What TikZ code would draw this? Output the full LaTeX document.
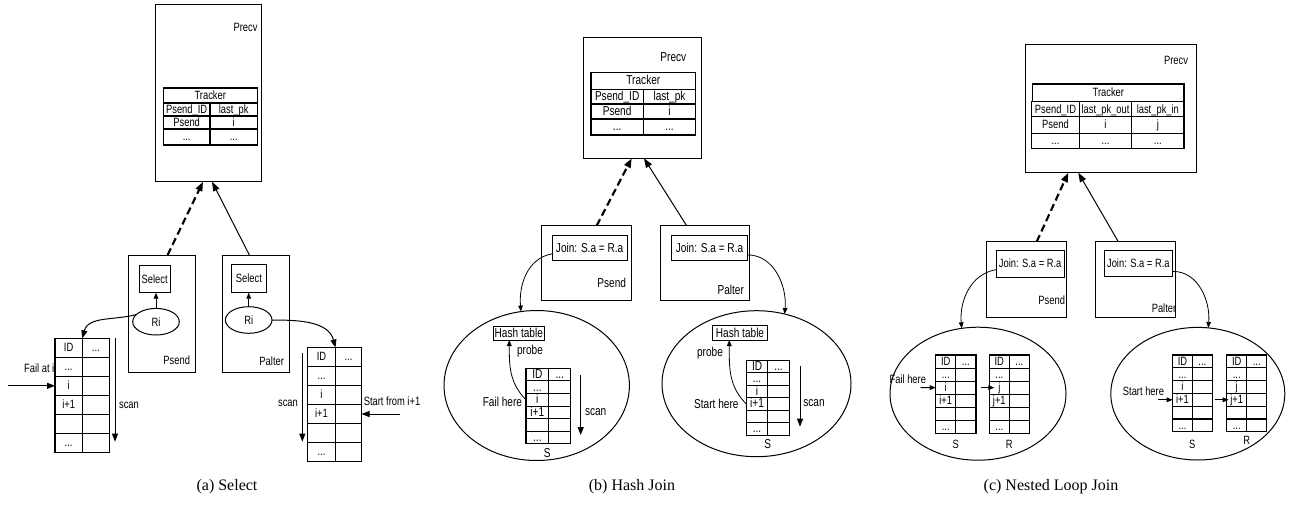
\documentclass[tikz,border=0pt]{standalone}
\usepackage{fontspec}
\setmainfont{Liberation Serif}
\newfontfamily\lab{Liberation Sans}[FakeStretch=0.78]
\usetikzlibrary{arrows.meta,shapes.geometric,calc}
\newcommand\threedots{...}

\tikzset{
  frame/.style={draw, line width=0.75pt, inner sep=0pt, outer sep=0pt},
  cell/.style={draw, line width=0.8pt, inner sep=0pt, outer sep=0pt, text height=1.45ex, text depth=0.2ex},
  cellbox/.style={inner sep=0pt, outer sep=0pt, text height=1.45ex, text depth=0.2ex},
  gridline/.style={line width=0.8pt},
  oval/.style={draw, ellipse, line width=0.75pt, inner sep=0pt, outer sep=0pt},
  lbl/.style={inner sep=0pt, outer sep=0pt},
  tip/.style={-{Triangle[length=6pt,width=4.5pt]}, line width=0.75pt},
  smalltip/.style={-{Triangle[length=4.5pt,width=3.5pt]}, line width=0.6pt},
  uparrow/.style={-{Triangle[length=7pt,width=5pt]}, line width=0.75pt},
  updashed/.style={uparrow, line width=1.6pt, dash pattern=on 5.5pt off 3pt},
  fa/.style={font=\lab\fontsize{9}{10}\selectfont},
  fb/.style={font=\lab\fontsize{9.7}{10.5}\selectfont},
  captext/.style={font=\fontsize{12}{14}\selectfont, inner sep=0pt}
}

% rectangle node from its corner coordinates (in px units)
\newcommand\rect[7]{\node[#1, minimum width={(#5-#3)*0.75pt}, minimum height={(#6-#4)*0.75pt}] (#2) at ({(#3+#5)/2},{(#4+#6)/2}) {#7};}

% two-column record table: name, left x, top y, col widths, row height, first-column entries
\newcommand\celltable[7]{%
  \foreach \txt [count=\rr] in {#7}{%
    \node[cellbox, minimum width={#4*0.75pt}, minimum height={#6*0.75pt}] (#1-\rr-1) at ({#2+#4/2},{#3+(\rr-0.5)*#6}) {\txt};
    \node[cellbox, minimum width={#5*0.75pt}, minimum height={#6*0.75pt}] (#1-\rr-2) at ({#2+#4+#5/2},{#3+(\rr-0.5)*#6}) {\ifnum\rr=1 \threedots\fi};
    \draw[gridline] (#1-\rr-1.north west) rectangle (#1-\rr-2.south east);
    \draw[gridline] (#1-\rr-1.north east) -- (#1-\rr-1.south east);
  }%
}

\begin{document}
\begin{tikzpicture}[x=0.75pt, y=-0.75pt]
\useasboundingbox (0,0) rectangle (1293,504);

%% ---------------- (a) Select ----------------
\begin{scope}[nodes={fa}]
\rect{frame}{PrecvA}{155}{4}{261.7}{181.7}{}
\node[lbl] at (245.5,27) {Precv};
\rect{cell}{TA0}{163.3}{88}{257.3}{103}{Tracker}
\rect{cell}{TA11}{163.3}{103}{210}{116}{Psend\_ID}
\rect{cell}{TA12}{210}{103}{257.3}{116}{last\_pk}
\rect{cell}{TA21}{163.3}{116}{210}{129}{Psend}
\rect{cell}{TA22}{210}{116}{257.3}{129}{i}
\rect{cell}{TA31}{163.3}{129}{210}{145}{\threedots}
\rect{cell}{TA32}{210}{129}{257.3}{145}{\threedots}

\rect{frame}{PsendA}{128.3}{255}{195.7}{372.7}{}
\rect{frame}{SelectA1}{139.3}{265}{170}{292.7}{Select}
\node[oval, minimum width={46.6*0.75pt}, minimum height={26.6*0.75pt}] (RiA1) at (156,321.7) {Ri};
\node[lbl] at (176.7,360) {Psend};

\rect{frame}{PalterA}{222.3}{255}{289}{372.7}{}
\rect{frame}{SelectA2}{231.7}{264.3}{266}{292.7}{Select}
\node[oval, minimum width={46.6*0.75pt}, minimum height={26.6*0.75pt}] (RiA2) at (248.7,320) {Ri};
\node[lbl] at (271.7,361.7) {Palter};

\celltable{A1}{55}{338.3}{27.3}{27}{19}{ID,\threedots,i,i+1,{},\threedots}
\celltable{A2}{307.5}{347.5}{28}{26}{19}{ID,\threedots,i,i+1,{},\threedots}

\draw[smalltip] (RiA1.north) -- (RiA1.north |- SelectA1.south);
\draw[smalltip] (RiA2.north) -- (RiA2.north |- SelectA2.south);
\draw[updashed] ($(PsendA.north)+(5.6,0)$) -- ($(PrecvA.south)+(-5.3,0)$);
\draw[uparrow] ($(PalterA.north)+(-6.3,0)$) -- ($(PrecvA.south)+(3.7,0)$);
\draw[tip] (RiA1.160) to[out=195,in=75] (A1-1-1.north east);
\draw[tip] (RiA2.east) to[out=0,in=105] (A2-1-1.north east);

\coordinate (failA) at (8,385.8);
\draw[tip] (failA) -- (A1-3-1.west);
\node[lbl, anchor=east] at (54.3,368) {Fail at i};
\coordinate (startA) at (400,414);
\draw[tip] (startA) -- (A2-4-2.east);
\node[lbl, anchor=west] at (363.8,401.7) {Start from i+1};

\coordinate (scanA1s) at (115,338);
\coordinate (scanA1e) at (115,441.7);
\draw[tip] (scanA1s) -- (scanA1e);
\node[lbl] at (129,405) {scan};
\coordinate (scanA2s) at (302.3,352.7);
\coordinate (scanA2e) at (302.3,441.7);
\draw[tip] (scanA2s) -- (scanA2e);
\node[lbl] at (288,403.3) {scan};
\end{scope}

%% ---------------- (b) Hash Join ----------------
\begin{scope}[nodes={fb}]
\rect{frame}{PrecvB}{583.3}{37}{701.7}{158.3}{}
\node[lbl] at (673.3,57.3) {Precv};
\rect{cell}{TB0}{591}{72.3}{695.7}{89.5}{Tracker}
\rect{cell}{TB11}{591}{89.5}{643.3}{104}{Psend\_ID}
\rect{cell}{TB12}{643.3}{89.5}{695.7}{104}{last\_pk}
\rect{cell}{TB21}{591}{104}{643.3}{119}{Psend}
\rect{cell}{TB22}{643.3}{104}{695.7}{119}{i}
\rect{cell}{TB31}{591}{119}{643.3}{135}{\threedots}
\rect{cell}{TB32}{643.3}{119}{695.7}{135}{\threedots}

\rect{frame}{PsendB}{541.7}{225.7}{631}{300}{}
\rect{frame}{JoinB1}{552}{235}{627.3}{260.7}{Join: S.a = R.a}
\node[lbl] at (611.7,282.7) {Psend};
\rect{frame}{PalterB}{660}{225.7}{749.3}{300}{}
\rect{frame}{JoinB2}{671.7}{235}{747.3}{260.7}{Join: S.a = R.a}
\node[lbl] at (730.7,290) {Palter};

\draw[updashed] ($(PsendB.north)+(10.3,0)$) -- ($(PrecvB.south)+(-10.8,0)$);
\draw[uparrow] ($(PalterB.north)+(-18,0)$) -- ($(PrecvB.south)+(1.5,0)$);

\node[oval, minimum width={185.4*0.75pt}, minimum height={150*0.75pt}] (EB1) at (536.7,385.5) {};
\node[oval, minimum width={189*0.75pt}, minimum height={146*0.75pt}] (EB2) at (756.5,383.7) {};

\rect{frame}{HashB1}{493.3}{326.7}{544.3}{340}{Hash table}
\node[lbl] at (530,351) {probe};
\celltable{SB1}{526}{368.3}{22.7}{22}{12.6}{ID,\threedots,i,i+1,{},\threedots}
\node[lbl] at (547.3,453.3) {S};
\node[lbl, anchor=east] at (522,402.3) {Fail here};
\draw[smalltip] (SB1-3-1.west) to[out=135,in=-90] ($(HashB1.south)+(-9.5,0)$);
\coordinate (scanB1s) at (580.7,375);
\coordinate (scanB1e) at (580.7,435);
\draw[tip] (scanB1s) -- (scanB1e);
\node[lbl] at (595.7,412.3) {scan};
\draw[smalltip] ($(JoinB1.west)+(0,6)$) to[out=190,in=95] (EB1.102);

\rect{frame}{HashB2}{712.7}{325}{767.3}{340}{Hash table}
\node[lbl] at (710,353.3) {probe};
\celltable{SB2}{746.3}{360.3}{21.5}{21.5}{12.5}{ID,\threedots,i,i+1,{},\threedots}
\node[lbl] at (767.7,444) {S};
\node[lbl, anchor=east] at (738.5,404) {Start here};
\draw[smalltip] (SB2-4-1.west) to[out=135,in=-90] ($(HashB2.south)+(-10.7,0)$);
\coordinate (scanB2s) at (800,366);
\coordinate (scanB2e) at (800,426.7);
\draw[tip] (scanB2s) -- (scanB2e);
\node[lbl] at (814,403.3) {scan};
\draw[smalltip] ($(JoinB2.east)+(0,7)$) to[out=0,in=85] (EB2.68);
\end{scope}

%% ---------------- (c) Nested Loop Join ----------------
\begin{scope}[nodes={fa}]
\rect{frame}{PrecvC}{1025}{44}{1196}{172.7}{}
\node[lbl] at (1176,60.7) {Precv};
\rect{cell}{TC0}{1032.7}{84}{1184}{101.7}{Tracker}
\rect{cell}{TC11}{1031.7}{101.7}{1079.3}{116.7}{Psend\_ID}
\rect{cell}{TC12}{1079.3}{101.7}{1131.7}{116.7}{last\_pk\_out}
\rect{cell}{TC13}{1131.7}{101.7}{1184}{116.7}{last\_pk\_in}
\rect{cell}{TC21}{1031.7}{116.7}{1079.3}{133.3}{Psend}
\rect{cell}{TC22}{1079.3}{116.7}{1131.7}{133.3}{i}
\rect{cell}{TC23}{1131.7}{116.7}{1184}{133.3}{j}
\rect{cell}{TC31}{1031.7}{133.3}{1079.3}{148.3}{\threedots}
\rect{cell}{TC32}{1079.3}{133.3}{1131.7}{148.3}{\threedots}
\rect{cell}{TC33}{1131.7}{133.3}{1184}{148.3}{\threedots}

\rect{frame}{PsendC}{986}{241.7}{1066}{317.3}{}
\rect{frame}{JoinC1}{996}{250}{1064.3}{277.3}{Join: S.a = R.a}
\node[lbl] at (1051.7,300.7) {Psend};
\rect{frame}{PalterC}{1095}{241.7}{1175}{317.3}{}
\rect{frame}{JoinC2}{1104}{250}{1172.7}{276.7}{Join: S.a = R.a}
\node[lbl] at (1164,308.3) {Palter};

\draw[updashed] ($(PsendC.north)+(10.7,0)$) -- ($(PrecvC.south)+(-42.2,0)$);
\draw[uparrow] ($(PalterC.north)+(-16.7,0)$) -- ($(PrecvC.south)+(-32.2,0)$);

\node[oval, minimum width={176*0.75pt}, minimum height={133*0.75pt}] (EC1) at (978,393.7) {};
\node[oval, minimum width={174*0.75pt}, minimum height={132.6*0.75pt}] (EC2) at (1197.8,393.7) {};

\celltable{SC1}{935.7}{355}{20}{20.3}{13.05}{ID,\threedots,i,i+1,{},\threedots}
\celltable{RC1}{989.3}{355}{20}{20}{13.05}{ID,\threedots,j,j+1,{},\threedots}
\node[lbl] at (955.7,444) {S};
\node[lbl] at (1009.3,444) {R};
\node[lbl, anchor=east] at (926,379.3) {Fail here};
\coordinate (failC) at (920.7,387.6);
\draw[smalltip] (failC) -- (SC1-3-1.west);
\draw[smalltip] ($(SC1-3-2.east)+(5,0)$) -- ($(RC1-3-1.west)+(5,0)$);
\draw[smalltip] ($(JoinC1.west)+(0,6)$) to[out=190,in=95] (EC1.104);

\celltable{SC2}{1172.7}{355}{19.6}{20}{12.8}{ID,\threedots,i,i+1,{},\threedots}
\celltable{RC2}{1226.7}{355}{20}{20}{12.8}{ID,\threedots,j,j+1,{},\threedots}
\node[lbl] at (1192.3,444) {S};
\node[lbl] at (1246.7,440) {R};
\node[lbl, anchor=east] at (1164,391.7) {Start here};
\coordinate (startC) at (1158.3,399.8);
\draw[smalltip] (startC) -- (SC2-4-1.west);
\draw[smalltip] ($(SC2-4-2.east)+(3,0)$) -- ($(RC2-4-1.west)+(2,0)$);
\draw[smalltip] ($(JoinC2.east)+(0,8)$) to[out=0,in=85] (EC2.81);
\end{scope}

%% ---------------- captions ----------------
\node[captext] (capA) at (227,487) {(a) Select};
\node[captext] (capB) at (632,487) {(b) Hash Join};
\node[captext] (capC) at (1051,487) {(c) Nested Loop Join};
\end{tikzpicture}
\end{document}
